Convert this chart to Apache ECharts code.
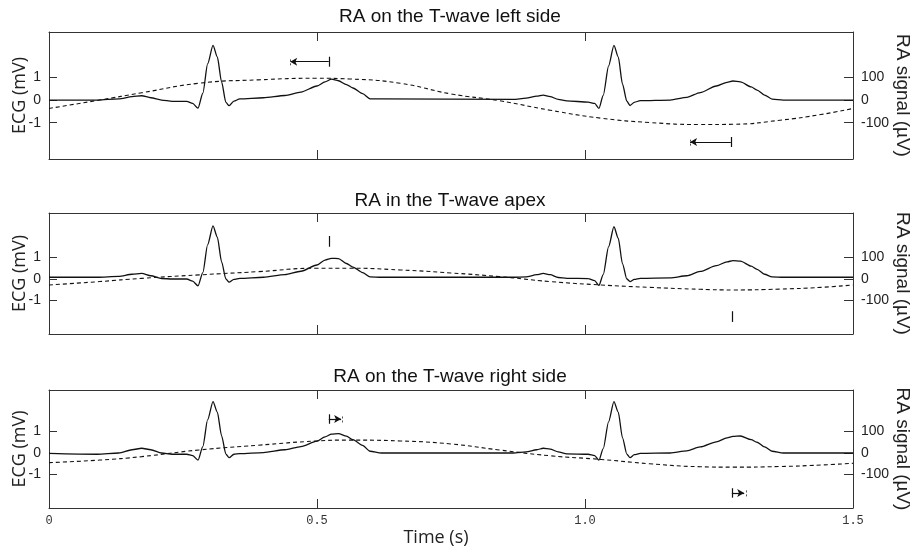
<!DOCTYPE html>
<html>
<head>
<meta charset="utf-8">
<script src="https://cdn.jsdelivr.net/npm/echarts@6/dist/echarts.min.js"></script>
<style>
  html, body { margin: 0; padding: 0; background: #fff; }
  #chart { width: 914px; height: 549px; }
</style>
</head>
<body>
<div id="chart"></div>
<script>
// ---------- data ----------
const panelTitles = ['RA on the T-wave left side', 'RA in the T-wave apex', 'RA on the T-wave right side'];
const xTickLabels = ['0', '0.5', '1.0', '1.5'];
const ecgTickValues = [-1, 0, 1];
const raTickValues = [-100, 0, 100];

// ECG sample times (s)
const ecgTime = [0, 0.09, 0.13, 0.155, 0.173, 0.19, 0.21, 0.23, 0.257, 0.268, 0.278, 0.287, 0.296, 0.306, 0.314, 0.322, 0.33, 0.336, 0.345, 0.356,
  0.40, 0.44, 0.47, 0.50, 0.515, 0.527, 0.54, 0.555, 0.567, 0.585, 0.599, 0.62,
  0.866, 0.89, 0.91, 0.922, 0.935, 0.95, 0.966, 1.006, 1.018, 1.026, 1.034, 1.044, 1.054, 1.062, 1.07, 1.078, 1.084, 1.092, 1.103,
  1.159, 1.19, 1.215, 1.245, 1.265, 1.276, 1.29, 1.31, 1.321, 1.335, 1.349, 1.37, 1.5];

// ECG values (mV)
const ecgLeft = [0, 0, 0.05, 0.15, 0.19, 0.1, 0.0, -0.06, -0.06, -0.15, -0.36, 0.3, 1.6, 2.41, 1.9, 0.8, -0.1, -0.25, -0.05, 0.05,
  0.1, 0.2, 0.35, 0.62, 0.8, 0.92, 0.85, 0.68, 0.53, 0.28, 0.05, 0.05,
  0.03, 0.08, 0.17, 0.22, 0.15, 0.03, -0.04, -0.09, -0.15, -0.37, 0.2, 1.5, 2.41, 1.9, 0.7, -0.05, -0.24, -0.1, -0.03,
  0.0, 0.12, 0.33, 0.62, 0.78, 0.84, 0.8, 0.58, 0.44, 0.22, 0.04, 0.0, 0.0];
const ecgApex = [0.08, 0.08, 0.12, 0.22, 0.26, 0.15, 0.02, 0.0, 0.0, -0.1, -0.32, 0.3, 1.6, 2.47, 1.95, 0.8, 0.0, -0.15, -0.02, 0.03,
  0.08, 0.2, 0.36, 0.65, 0.88, 0.96, 0.95, 0.72, 0.55, 0.3, 0.1, 0.08,
  0.08, 0.1, 0.2, 0.26, 0.2, 0.07, 0.03, 0.02, -0.08, -0.3, 0.2, 1.5, 2.43, 1.9, 0.7, 0.0, -0.12, -0.02, 0.03,
  0.05, 0.15, 0.35, 0.62, 0.8, 0.85, 0.83, 0.6, 0.45, 0.22, 0.1, 0.08, 0.08];
const ecgRight = [-0.02, -0.06, 0.0, 0.15, 0.22, 0.15, 0.0, -0.06, -0.06, -0.12, -0.33, 0.3, 1.55, 2.39, 1.9, 0.8, -0.05, -0.22, -0.06, -0.03,
  0.02, 0.15, 0.3, 0.55, 0.75, 0.88, 0.9, 0.78, 0.62, 0.35, 0.08, 0.0,
  0.0, 0.05, 0.15, 0.22, 0.18, 0.05, -0.04, -0.06, -0.12, -0.33, 0.2, 1.45, 2.39, 1.9, 0.7, -0.05, -0.22, -0.08, -0.02,
  0.0, 0.1, 0.28, 0.52, 0.7, 0.77, 0.79, 0.62, 0.5, 0.28, 0.08, 0.0, 0.0];

// RA signal sample times (s) and values (µV)
const raTime = [0, 0.095, 0.173, 0.28, 0.39, 0.5, 0.56, 0.655, 0.75, 0.84, 0.935, 1.03, 1.12, 1.215, 1.276, 1.364, 1.44, 1.5];
const raLeft = [-37, 0, 32, 74, 89, 96, 93, 74, 27, -3, -45, -80, -99, -108, -107, -89, -64, -37];
const raApex = [-28, -12, 3, 19, 34, 50, 50, 42, 28, 11, -12, -28, -39, -48, -51, -47, -39, -28];
const raRight = [-45, -33, -17, 14, 36, 56, 60, 56, 42, 14, -13, -30, -50, -64, -66, -63, -56, -48];

// annotation marks (time in s, level in mV)
const arrowLeftFrom = [0.45, 1.196];
const arrowLeftTo = [0.522, 1.272];
const arrowLeftLevel = [1.69, -1.85];
const apexMarkTime = [0.522, 1.274];
const apexMarkLow = [1.5, -2.0];
const apexMarkHigh = [2.0, -1.5];
const arrowRightFrom = [0.522, 1.274];
const arrowRightTo = [0.545, 1.297];
const arrowRightLevel = [1.58, -1.86];

// ---------- chart ----------
const zip = (xs, ys) => xs.map((x, i) => [x, ys[i]]);
const ecgSets = [ecgLeft, ecgApex, ecgRight];
const raSets = [raLeft, raApex, raRight];

const grids = [
  { left: 49, right: 61, top: 32, height: 127 },
  { left: 49, right: 61, top: 213, height: 121 },
  { left: 49, right: 61, top: 390, height: 118 }
];
const ecgRanges = [[-2.6, 3.0], [-2.56, 3.07], [-2.56, 2.93]];
const ink = '#111';
const frame = '#333';
const BAR = 0.22;
const TIP_BAR = 0.16;

function hArrowMarks(from, to, level, arrowAtEnd) {
  const out = [];
  for (let i = 0; i < from.length; i++) {
    out.push([
      { coord: [from[i], level[i]], symbol: arrowAtEnd ? 'none' : 'arrow', symbolSize: [6, 7] },
      { coord: [to[i], level[i]], symbol: arrowAtEnd ? 'arrow' : 'none', symbolSize: [6, 7] }
    ]);
    const barX = arrowAtEnd ? from[i] : to[i];
    out.push([
      { coord: [barX, level[i] - BAR], symbol: 'none' },
      { coord: [barX, level[i] + BAR], symbol: 'none' }
    ]);
    // faint dotted tick at the arrow tip
    const tipX = arrowAtEnd ? to[i] + 0.003 : from[i];
    out.push([
      { coord: [tipX, level[i] - TIP_BAR], symbol: 'none', lineStyle: { type: [2, 2], color: '#555', width: 1 } },
      { coord: [tipX, level[i] + TIP_BAR], symbol: 'none' }
    ]);
  }
  return out;
}
function vMarks(times, low, high) {
  return times.map((t, i) => [
    { coord: [t, low[i]], symbol: 'none' },
    { coord: [t, high[i]], symbol: 'none' }
  ]);
}
const markSets = [
  hArrowMarks(arrowLeftFrom, arrowLeftTo, arrowLeftLevel, false),
  vMarks(apexMarkTime, apexMarkLow, apexMarkHigh),
  hArrowMarks(arrowRightFrom, arrowRightTo, arrowRightLevel, true)
];

const xAxis = [], yAxis = [], series = [], title = [];
const titleTops = [2, 186, 362];
const frameLine = { show: true, onZero: false, lineStyle: { color: frame, width: 1 } };

grids.forEach((g, i) => {
  title.push({
    text: panelTitles[i], left: 445, textAlign: 'center', top: titleTops[i],
    textStyle: { fontFamily: 'Liberation Sans', fontWeight: 'normal', fontSize: 19, color: ink }
  });
  const isLast = i === grids.length - 1;
  // bottom x axis
  xAxis.push({
    type: 'value', gridIndex: i, min: 0, max: 1.5, interval: 0.5, position: 'bottom',
    axisLine: frameLine,
    axisTick: { show: true, inside: true, length: 9, lineStyle: { color: frame } },
    splitLine: { show: false },
    axisLabel: {
      show: isLast, margin: 7, fontFamily: 'Liberation Mono', fontSize: 12, color: '#333',
      formatter: v => xTickLabels[Math.round(v / 0.5)]
    },
    name: isLast ? 'Time (s)' : '', nameLocation: 'middle', nameGap: 21, nameMoveOverlap: false,
    nameTextStyle: { fontFamily: 'Open Sans', fontSize: 18, color: '#222', padding: [0, 30, 0, 0] }
  });
  // top x axis (ticks only)
  xAxis.push({
    type: 'value', gridIndex: i, min: 0, max: 1.5, interval: 0.5, position: 'top',
    axisLine: frameLine,
    axisTick: { show: true, inside: true, length: 9, lineStyle: { color: frame } },
    splitLine: { show: false }, axisLabel: { show: false }
  });
  const [lo, hi] = ecgRanges[i];
  yAxis.push({
    type: 'value', gridIndex: i, min: lo, max: hi, position: 'left',
    axisLine: frameLine, splitLine: { show: false },
    axisTick: { show: true, inside: true, length: 8, customValues: ecgTickValues, lineStyle: { color: frame } },
    axisLabel: { customValues: ecgTickValues, margin: 8, fontFamily: 'Liberation Sans', fontSize: 14, color: '#222' },
    name: 'ECG (mV)', nameLocation: 'middle', nameGap: 20, nameRotate: 90, nameMoveOverlap: false,
    nameTextStyle: { fontFamily: 'Open Sans', fontSize: 18, color: '#222' }
  });
  yAxis.push({
    type: 'value', gridIndex: i, min: lo * 100, max: hi * 100, position: 'right',
    axisLine: frameLine, splitLine: { show: false },
    axisTick: { show: true, inside: true, length: 9, customValues: raTickValues, lineStyle: { color: frame } },
    axisLabel: { customValues: raTickValues, margin: 8, fontFamily: 'Liberation Sans', fontSize: 14, color: '#222' },
    name: 'RA signal (µV)', nameLocation: 'middle', nameGap: 40, nameRotate: -90, nameMoveOverlap: false,
    nameTextStyle: { fontFamily: 'Liberation Sans', fontSize: 19, color: '#222' }
  });
  series.push({
    type: 'line', xAxisIndex: i * 2, yAxisIndex: i * 2,
    data: zip(ecgTime, ecgSets[i]), showSymbol: false, symbol: 'none',
    smooth: 0.25, smoothMonotone: 'x',
    lineStyle: { color: ink, width: 1.3 },
    markLine: {
      silent: true, animation: false, symbol: 'none',
      label: { show: false },
      lineStyle: { color: ink, width: 1.2, type: 'solid' },
      emphasis: { disabled: true },
      data: markSets[i]
    }
  });
  series.push({
    type: 'line', xAxisIndex: i * 2, yAxisIndex: i * 2 + 1,
    data: zip(raTime, raSets[i]), showSymbol: false, symbol: 'none',
    smooth: true,
    lineStyle: { color: ink, width: 1.1, type: [4, 3] }
  });
});

const chart = echarts.init(document.getElementById('chart'), null, { renderer: 'canvas' });
chart.setOption({
  animation: false,
  backgroundColor: '#fff',
  title,
  grid: grids.map(g => Object.assign({
    show: false, containLabel: false, outerBoundsMode: 'none'
  }, g)),
  xAxis, yAxis, series
});
</script>
</body>
</html>
